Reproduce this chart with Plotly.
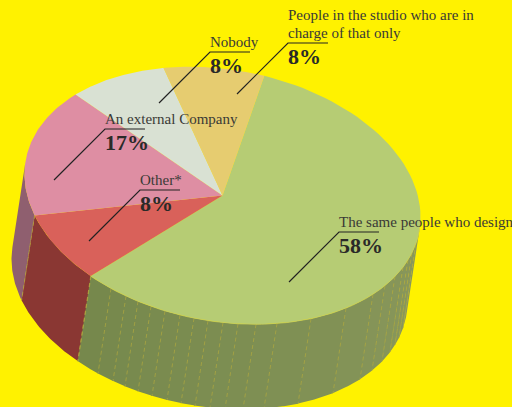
import math
import numpy as np
import plotly.graph_objects as go

# ---- data (clockwise from the top of the pie) ----
categories = ["The same people who design", "Other*", "An external Company", "Nobody",
              "People in the studio who are in charge of that only"]
printed_percent = [58, 8, 17, 8, 8]
slice_shares = [58.2, 8.3, 16.8, 8.5, 8.2]
top_colors = ["#B6CC74", "#D9615A", "#DE8EA3", "#D9E1D3", "#E6CC70"]
wall_colors = ["#7E8F52", "#8A3733", "#8F5F6F", "#8F5F6F", "#8F5F6F"]
seam_x = [91, 111, 126, 138, 151, 165, 180, 194, 208, 223, 238, 256, 277, 311, 346, 373, 385, 395, 403, 408, 412, 416]

# ---- pie projection ----
CX, CY = 222.5, 195.5
AX, AYC, AYS = 198, 21.3, 127
DX, DY = -13, 85
START = -77.8
VIS_FROM, VIS_TO = 5.5, 185.5


def rim(t_deg, dx=0, dy=0):
    t = np.radians(t_deg)
    return CX + AX * np.cos(t) + dx, CY + AYC * np.cos(t) + AYS * np.sin(t) + dy


total = sum(slice_shares)
edges = [START]
for v in slice_shares:
    edges.append(edges[-1] + 360 * v / total)

fig = go.Figure()


def poly(xs, ys, color):
    fig.add_trace(go.Scatter(x=list(xs), y=list(ys), mode="lines", fill="toself", fillcolor=color,
                             line=dict(width=0, color=color),
                             hoverinfo="skip", showlegend=False))


def wall(a, b, color):
    ts = np.linspace(a, b, 40)
    x1, y1 = rim(ts)
    x2, y2 = rim(ts[::-1], DX, DY)
    poly(np.r_[x1, x2, x1[0]], np.r_[y1, y2, y1[0]], color)


def mix(c1, c2, f):
    return "rgb(" + ",".join(str(round(p + (q - p) * f)) for p, q in zip(c1, c2)) + ")"


# walls, drawn from the visible range only
seam_t = sorted(math.degrees(math.acos((x - CX) / AX)) for x in seam_x)
green_end = edges[1]
bounds = [VIS_FROM] + [t for t in seam_t if VIS_FROM < t < green_end] + [green_end]
for i in range(len(bounds) - 1):
    a, b = bounds[i], bounds[i + 1]
    f = ((a + b) / 2 - VIS_FROM) / (green_end - VIS_FROM)
    wall(a, b + 0.3, mix((138, 152, 92), (117, 136, 76), f))
wall(edges[1], edges[2], wall_colors[1])
wall(edges[2], VIS_TO, wall_colors[2])

# seams between wall panels
for t in [t for t in seam_t if VIS_FROM < t < green_end] + [edges[1], edges[2]]:
    x0, y0 = rim(t)
    x1, y1 = rim(t, DX, DY)
    fig.add_trace(go.Scatter(x=[x0, x1], y=[y0, y1], mode="lines", opacity=0.75,
                             line=dict(color="#B3AA3E", width=0.9, dash="4px,3px"),
                             hoverinfo="skip", showlegend=False))

# top face
for i, c in enumerate(top_colors):
    ts = np.linspace(edges[i], edges[i + 1], 90)
    x, y = rim(ts)
    poly(np.r_[CX, x, CX], np.r_[CY, y, CY], c)

# rim highlight along the visible wall edge
ts = np.linspace(VIS_FROM, green_end, 120)
x, y = rim(ts)
fig.add_trace(go.Scatter(x=x, y=y, mode="lines", line=dict(color="#C9CF5A", width=0.8),
                         hoverinfo="skip", showlegend=False))

# ---- labels: (text lines, value, elbow x, underline y, anchor x, anchor y) ----
placements = [
    (["The same people who design"], printed_percent[0], 339, 232, 289, 282),
    (["Other*"], printed_percent[1], 140, 190, 89, 241),
    (["An external Company"], printed_percent[2], 105, 129, 54, 180),
    (["Nobody"], printed_percent[3], 210, 52, 159, 103),
    (["People in the studio who are in", "charge of that only"], printed_percent[4], 288, 43, 237, 94),
]
TEXT = "#3A3A36"
shapes, notes = [], []
for lines, v, ex, uy, ax_, ay_ in placements:
    shapes.append(dict(type="path", xref="x", yref="y",
                       path=f"M{ax_},{ay_} L{ex},{uy} L{ex + 40},{uy}",
                       line=dict(color="#222222", width=1.2)))
    for k, ln in enumerate(reversed(lines)):
        notes.append(dict(x=ex - 1, y=uy - 1 - 18 * k, xref="x", yref="y", text=ln, showarrow=False,
                          xanchor="left", yanchor="bottom", borderpad=0,
                          font=dict(family="Liberation Serif", size=15, color=TEXT)))
    notes.append(dict(x=ex - 1, y=uy, xref="x", yref="y", text=f"<b>{v}%</b>", showarrow=False,
                      xanchor="left", yanchor="top", borderpad=0,
                      font=dict(family="Liberation Serif", size=22, color="#2A2A28")))

fig.update_layout(
    width=512, height=407, margin=dict(l=0, r=0, t=0, b=0),
    paper_bgcolor="#FFF200", plot_bgcolor="#FFF200", showlegend=False,
    xaxis=dict(range=[0, 512], visible=False, fixedrange=True),
    yaxis=dict(range=[407, 0], visible=False, fixedrange=True),
    shapes=shapes, annotations=notes,
)
fig.write_html("out.html", config=dict(displayModeBar=False),
               post_script="document.body.style.margin='0';document.body.style.overflow='hidden';")
